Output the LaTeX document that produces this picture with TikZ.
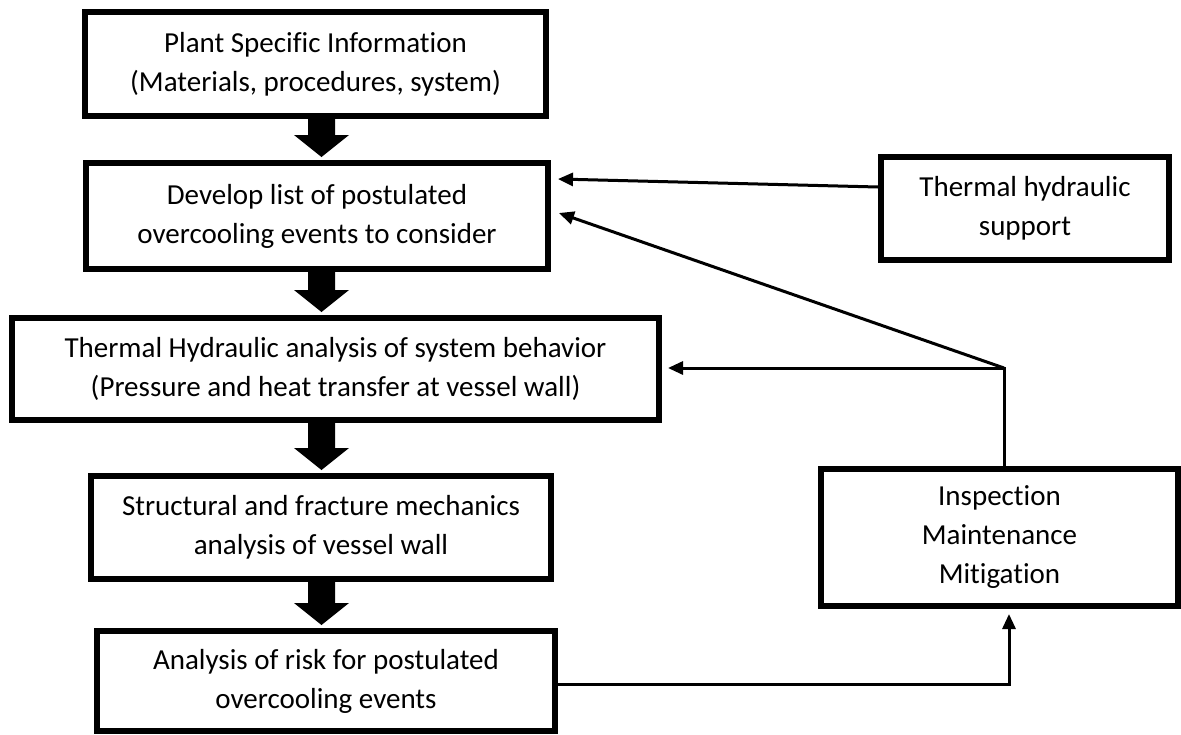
\documentclass[tikz,border=0pt]{standalone}
\usepackage{fontspec}
\setmainfont{Carlito}[Ligatures={NoCommon,NoRare}]
\usetikzlibrary{arrows.meta,calc}
\begin{document}
\begin{tikzpicture}[x=1pt,y=-1pt,
  box/.style={draw=black,line width=6pt,fill=white,align=center,inner sep=0pt,
    font=\fontsize{29}{39}\selectfont},
  thinarrow/.style={draw=black,line width=3pt,-{Triangle[length=15pt,width=13pt]}},
  thinline/.style={draw=black,line width=3pt}]
\fill[white] (0,0) rectangle (1181,734);
\useasboundingbox (0,0) rectangle (1181,734);
% nodes
\node[box,minimum width=461pt,minimum height=104pt] (b1) at (315.5,64)
  {Plant Specific Information\\(Materials, procedures, system)};
\node[box,minimum width=462pt,minimum height=106pt] (b2) at (317,216)
  {Develop list of postulated\\overcooling events to consider};
\node[box,minimum width=647pt,minimum height=102pt] (b3) at (335.5,369)
  {Thermal Hydraulic analysis of system behavior\\(Pressure and heat transfer at vessel wall)};
\node[box,minimum width=460pt,minimum height=103pt] (b4) at (321,527.5)
  {Structural and fracture mechanics\\analysis of vessel wall};
\node[box,minimum width=458pt,minimum height=100pt] (b5) at (326,681)
  {Analysis of risk for postulated\\overcooling events};
\node[box,minimum width=288pt,minimum height=103pt] (th) at (1025,208.5)
  {Thermal hydraulic\\support};
\node[box,minimum width=357pt,minimum height=137pt] (imm) at (999.5,537.5)
  {Inspection\\Maintenance\\Mitigation};
% block arrows
\newcommand\blockarrow[2]{%
  \fill[black] let \p1=(#1.south), \p2=(#2.north) in
    (308pt,\y1) -- (335pt,\y1) -- (335pt,\y2+25pt) -- (349pt,\y2+25pt)
    -- (321.5pt,\y2+3pt) -- (294pt,\y2+25pt) -- (308pt,\y2+25pt) -- cycle;}
\blockarrow{b1}{b2}
\blockarrow{b2}{b3}
\blockarrow{b3}{b4}
\blockarrow{b4}{b5}
% feedback connectors
\coordinate (j) at (1004,368);
\draw[thinarrow] ($(th.west)+(0,-21.5)$) -- ($(b2.east)+(7,-37)$);
\draw[thinline,line cap=rect] (j |- imm.north) -- (j);
\draw[thinarrow] (j) -- ($(b3.east |- j)+(6,0)$);
\draw[thinarrow] (j) -- ($(b2.east)+(8,-3)$);
\draw[thinarrow] ($(b5.east)+(0,3)$) -| ($(imm.south)+(9.5,5)$);
\end{tikzpicture}
\end{document}
